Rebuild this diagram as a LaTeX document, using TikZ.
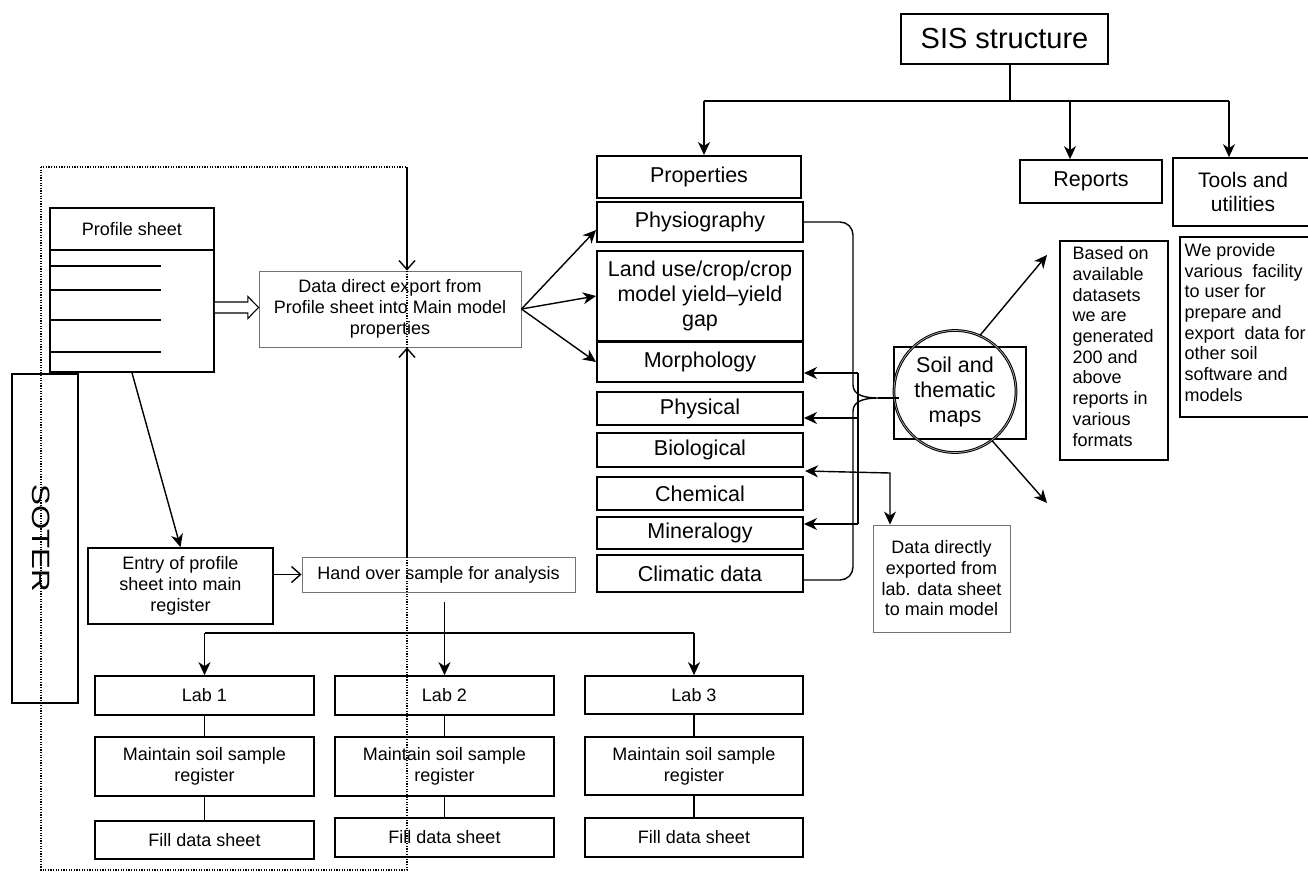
\documentclass[tikz,border=0pt]{standalone}
\usepackage{fontspec}
\setmainfont{Liberation Sans}
\usetikzlibrary{arrows.meta,calc}
\begin{document}
\begin{tikzpicture}[x=1pt,y=-1pt,
  tA/.style={font=\fontsize{18}{20.7}\selectfont},
  tB/.style={font=\fontsize{21.5}{25}\selectfont},
  box/.style={draw, line width=1.7pt, inner sep=0pt, align=center, tA},
  pbox/.style={draw, line width=2pt, inner sep=0pt, align=center, minimum width=206pt, tB},
  gbox/.style={draw=black!55, line width=0.9pt, inner sep=0pt, align=center, tA},
  arr/.style={-{Stealth[length=13pt,width=12pt,inset=4pt]}, line width=1.4pt},
  oarr/.style={-{Straight Barb[length=9pt,width=16pt]}, line width=1.4pt},
  dots/.style={line width=1.3pt, dash pattern=on 1.2pt off 1.4pt},
  ln/.style={line width=1.4pt}
]
\useasboundingbox (0,0) rectangle (1308,872);

% ---------- top tree ----------
\node[draw, line width=1.8pt, inner sep=0pt, minimum width=207pt, minimum height=50pt, font=\fontsize{29}{32}\selectfont] (sis) at (1004.5,39) {SIS structure};
\node[pbox, minimum width=204pt, minimum height=42pt] (prop) at (699,177) {Properties};
\node[box, minimum width=142pt, minimum height=43pt, tB] (rep) at (1091,181.5) {Reports};
\node[box, minimum width=140pt, minimum height=68pt, font=\fontsize{21}{24}\selectfont] (tools) at (1243,192) {Tools and\\utilities};

\coordinate (sj) at (1010,101);
\coordinate (tp) at (704,101);
\coordinate (tr) at (1070,101);
\coordinate (tt) at (1229,101);
\draw[ln] (sis.south -| sj) -- (sj);
\draw[ln] (tp) -- (tt);
\draw[arr] (tp) -- (tp |- prop.north);
\draw[arr] (tr) -- (tr |- rep.north);
\draw[arr] (tt) -- (tt |- tools.north);

% ---------- property column ----------
\node[pbox, minimum height=40pt] (physio) at (700,222) {Physiography};
\node[pbox, minimum height=90pt] (land) at (700,296) {Land use/crop/crop\\model yield–yield\\gap};
\node[pbox, minimum height=40pt] (morph) at (700,362) {Morphology};
\node[pbox, minimum height=33pt] (physic) at (700,408.5) {Physical};
\node[pbox, minimum height=34pt] (bio) at (700,450) {Biological};
\node[pbox, minimum height=33pt] (chem) at (700,493.5) {Chemical};
\node[pbox, minimum height=32pt] (miner) at (700,533) {Mineralogy};
\node[pbox, minimum height=37pt] (clim) at (700,573.5) {Climatic data};

% ---------- maps ----------
\node[draw, line width=1.8pt, minimum width=132pt, minimum height=92pt, inner sep=0pt] (maprect) at (960,393) {};
\node[draw, circle, line width=1pt, double=black!30, double distance=0.7pt, minimum size=122pt, inner sep=0pt, align=center, tB] (maps) at (955,391.5) {Soil and\\thematic\\maps};

% brace from the property column to the maps
\coordinate (btip) at (899,398);
\draw[ln] (physio.east) -- (840,222) to[out=0,in=90] (853,235) -- (853,385)
  to[out=-90,in=180] (878,398) to[out=180,in=90] (853,411) -- (853,567)
  to[out=-90,in=0] (840,580) -- (clim.east |- 0,580);
\draw[ln] (878,398) -- (btip);

% bracket arrows
\coordinate (kt) at (858,373);
\coordinate (km) at (858,418);
\coordinate (kb) at (858,524);
\draw[ln] (kt) -- (kb);
\draw[arr] (kt) -- (kt -| morph.east);
\draw[arr] (km) -- (km -| physic.east);
\draw[arr] (kb) -- (kb -| miner.east);

% lab data
\node[gbox, minimum width=137pt, minimum height=107pt] (ddata) at (941.5,578.5) {Data directly\\exported from\\lab. data sheet\\to main model};
\coordinate (bc) at (890,473);
\draw[{Stealth[length=13pt,width=12pt,inset=4pt]}-{Stealth[length=13pt,width=12pt,inset=4pt]}, line width=1.4pt]
  ($(bio.south east)+(1,3)$) -- (bc) -- (bc |- ddata.north);

% circle arrows
\coordinate (ra) at (1047,255);
\coordinate (rb) at (1047,503);
\draw[arr] (maps.66) -- (ra);
\draw[arr] (maps.-53) -- (rb);

% reports / tools text boxes
\node[draw, line width=1.2pt, minimum width=108pt, minimum height=219pt, inner sep=0pt] (repbox) at (1114,350.5) {};
\node[anchor=west, align=left, inner sep=0pt, tA] (reptext) at ($(repbox.west)+(13,-4)$) {Based on\\available\\datasets\\we are\\generated\\200 and\\above\\reports in\\various\\formats};
\node[draw, line width=1.2pt, minimum width=134pt, minimum height=180pt, inner sep=0pt] (toolbox) at (1247,327) {};
\node[anchor=west, align=left, inner sep=0pt, tA] (tooltext) at ($(toolbox.west)+(5,-4.5)$) {We provide\\various\ \ facility\\to user for\\prepare and\\export\ \ data for\\other soil\\software and\\models};

% ---------- left part ----------
\node[draw, line width=1.7pt, minimum width=164pt, minimum height=164pt, inner sep=0pt] (prof) at (132,290) {};
\node[tA, inner sep=0pt] (proft) at (132,229) {Profile sheet};
\draw[line width=1.7pt] (prof.west |- 0,250) -- (prof.east |- 0,250);
\foreach \yy in {266,290,320,352} \draw[line width=1.2pt] (prof.west |- 0,\yy) -- (161,\yy);

\node[gbox, minimum width=262pt, minimum height=76pt] (ddir) at (390,309) {Data direct export from\\Profile sheet into Main model\\properties};

% hollow fat arrow
\coordinate (fa) at ($(prof.east |- ddir.west)+(0,-1.5)$);
\draw[line width=1.1pt, fill=white] ($(fa)+(0,-5.5)$) -- ++(33,0) -- ++(0,-5.5) -- (fa -| ddir.west)
  -- ($(fa)+(33,11)$) -- ++(0,-5.5) -- ($(fa)+(0,5.5)$);

\draw[arr] (ddir.east) -- ($(physio.west)+(0,8)$);
\draw[arr] (ddir.east) -- (land.west);
\draw[arr] (ddir.east) -- (morph.west);

\node[draw, line width=1.3pt, minimum width=66pt, minimum height=329pt, inner sep=0pt] (soter) at (45,538.5) {};
\node[rotate=-90, inner sep=0pt, font=\fontsize{25}{27}\selectfont] (sotert) at (41,538) {\scalebox{1.25}[1]{SOTER}};

\node[box, minimum width=185pt, minimum height=76pt] (entry) at (180.5,586) {Entry of profile\\sheet into main\\register};
\node[gbox, minimum width=273pt, minimum height=35pt] (hand) at (438.5,574.5) {Hand over sample for analysis};

\draw[arr] (prof.south) -- (entry.north);
\draw[oarr] (entry.east |- hand.west) -- (hand.west);

% labs
\node[box, minimum width=219pt, minimum height=39pt] (lab1) at (204.5,695.5) {Lab 1};
\node[box, minimum width=219pt, minimum height=39pt] (lab2) at (444.5,695.5) {Lab 2};
\node[box, minimum width=218pt, minimum height=38pt] (lab3) at (694,695) {Lab 3};
\node[box, minimum width=219pt, minimum height=59pt] (m1) at (204.5,766.5) {Maintain soil sample\\register};
\node[box, minimum width=219pt, minimum height=59pt] (m2) at (444.5,766.5) {Maintain soil sample\\register};
\node[box, minimum width=218pt, minimum height=58pt] (m3) at (694,766) {Maintain soil sample\\register};
\node[box, minimum width=219pt, minimum height=38pt] (f1) at (204.5,840) {Fill data sheet};
\node[box, minimum width=219pt, minimum height=39pt] (f2) at (444.5,837.5) {Fill data sheet};
\node[box, minimum width=218pt, minimum height=39pt] (f3) at (694,837.5) {Fill data sheet};

\coordinate (hl) at (0,633);
\draw[ln] (lab1.north |- hl) -- (lab3.north |- hl);
\draw[arr] (lab1.north |- hl) -- (lab1.north);
\draw[arr] (lab3.north |- hl) -- (lab3.north);
\draw[arr] ($(lab2.north |- hand.south)+(0,10)$) -- (lab2.north);
\draw[ln] (lab1.south) -- (m1.north);
\draw[ln] (lab2.south) -- (m2.north);
\draw[ln] (lab3.south) -- (m3.north);
\draw[ln] (m1.south) -- (f1.north);
\draw[ln] (m2.south) -- (f2.north);
\draw[ln] (m3.south) -- (f3.north);

% dotted frame and vertical arrows
\coordinate (dtl) at (41,167);
\coordinate (dtr) at (407,167);
\coordinate (dbr) at (407,870);
\draw[dots] (dtl) rectangle (dbr);
\draw[oarr] (dtr) -- (dtr |- ddir.north);
\draw[oarr] (dtr |- hand.north) -- (dtr |- ddir.south);
\end{tikzpicture}
\end{document}
